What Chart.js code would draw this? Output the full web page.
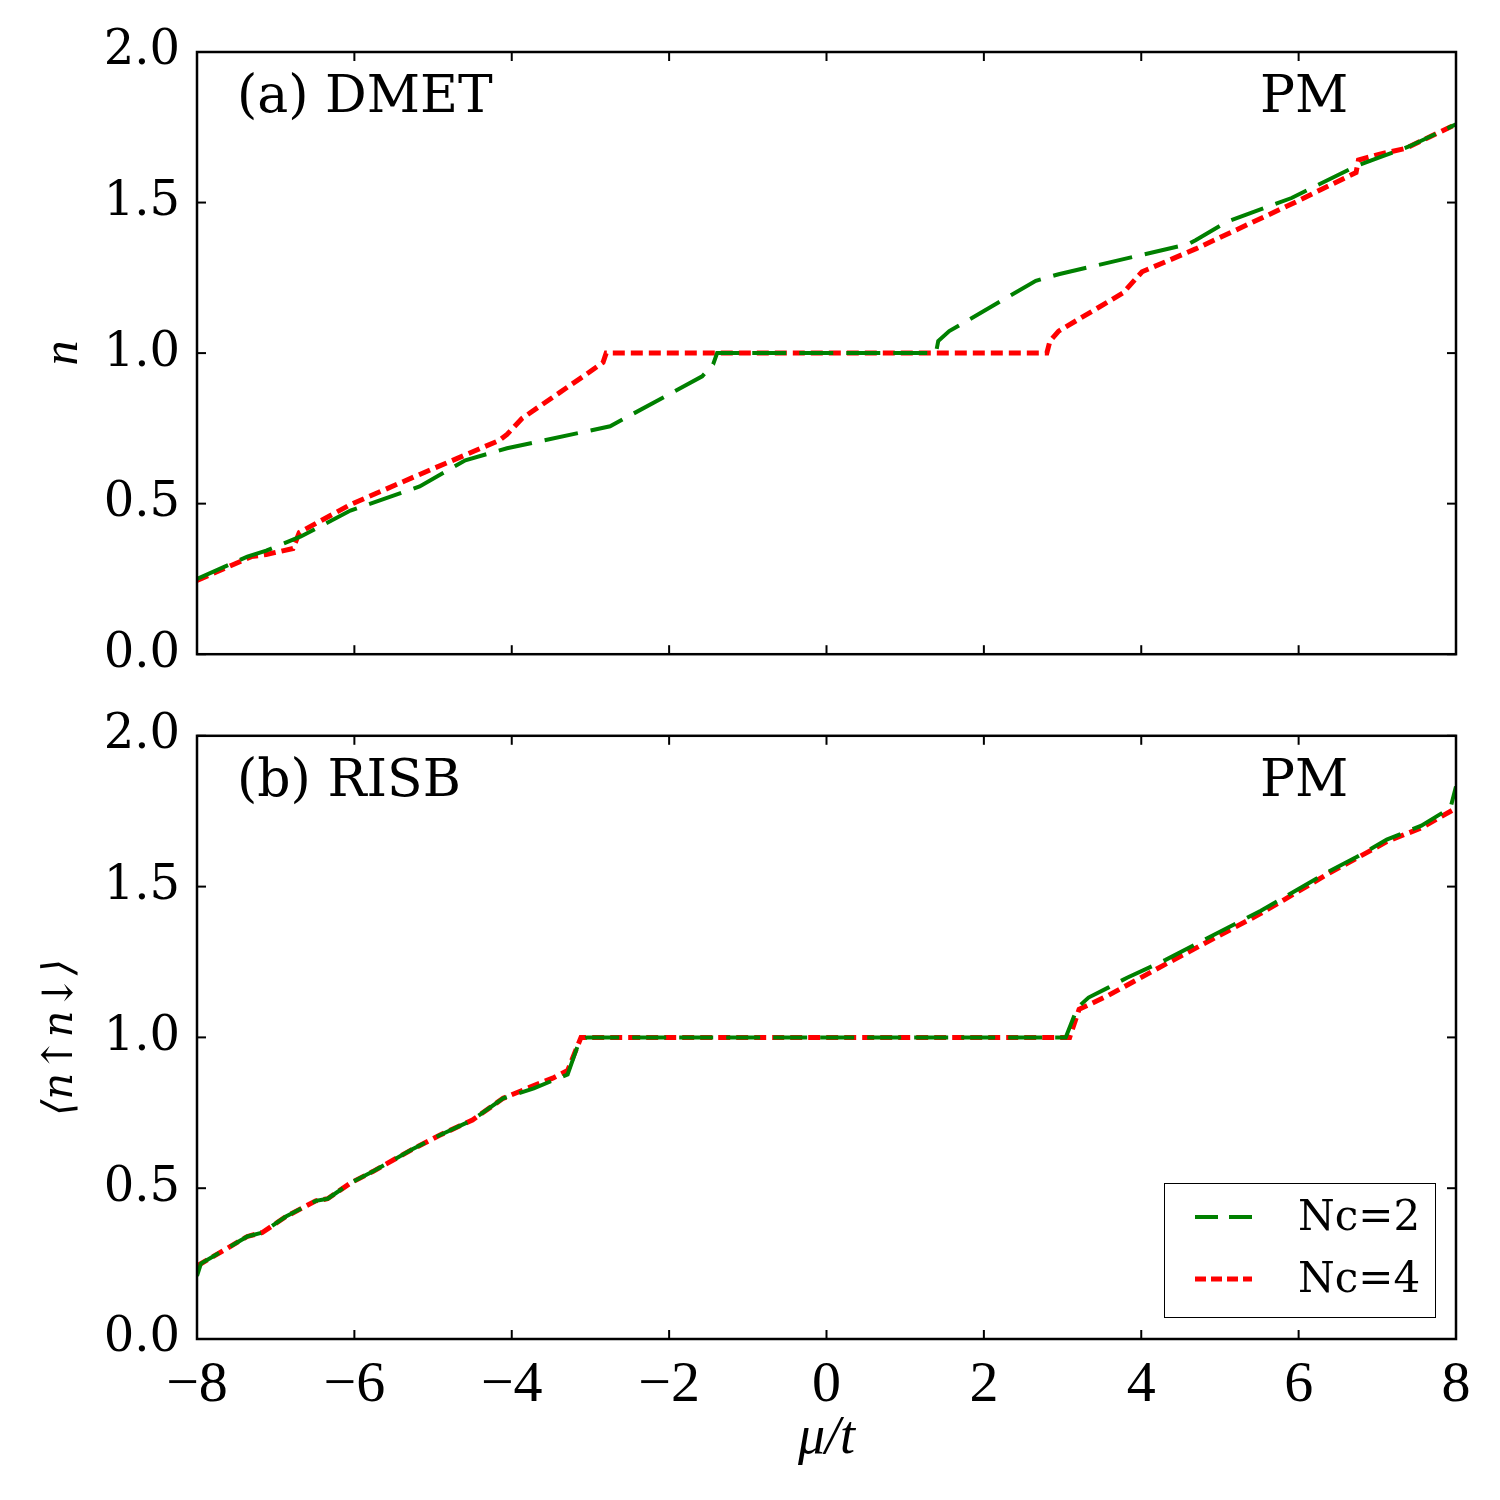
<!DOCTYPE html>
<html>
<head>
<meta charset="utf-8">
<script src="https://cdn.jsdelivr.net/npm/chart.js@4.4.0/dist/chart.umd.min.js"></script>
<style>
body{margin:0;background:#fff;}
#wrap{position:relative;width:1500px;height:1500px;}
canvas{position:absolute;left:0;}
</style>
</head>
<body>
<div id="wrap">
<canvas id="chartA" width="1500" height="700" style="top:0"></canvas>
<canvas id="chartB" width="1500" height="810" style="top:690px"></canvas>
</div>
<script>
// panel (a) DMET
var muA2 = [-8, -7.36, -7.12, -6.68, -6.05, -5.17, -4.59, -4.06, -2.75, -1.58, -1.44, -1.39, 1.39, 1.42, 1.56, 2.66, 2.95, 4.60, 4.69, 5.08, 5.91, 6.73, 7.07, 7.41, 8];
var nA2  = [0.25, 0.324, 0.344, 0.391, 0.477, 0.557, 0.644, 0.684, 0.757, 0.923, 0.963, 1.0, 1.0, 1.04, 1.073, 1.24, 1.262, 1.362, 1.375, 1.435, 1.515, 1.621, 1.654, 1.687, 1.76];
var muA4 = [-8, -7.31, -7.12, -6.78, -6.70, -6.05, -5.17, -4.16, -4.06, -3.87, -3.09, -2.84, -2.80, 2.80, 2.84, 2.95, 3.77, 4.01, 4.69, 5.91, 6.73, 6.76, 7.02, 7.36, 8];
var nA4  = [0.245, 0.324, 0.331, 0.351, 0.404, 0.497, 0.597, 0.710, 0.730, 0.783, 0.923, 0.969, 1.0, 1.0, 1.04, 1.073, 1.20, 1.27, 1.346, 1.495, 1.60, 1.641, 1.66, 1.68, 1.76];

// panel (b) RISB
var muB2 = [-8, -7.95, -7.36, -7.17, -6.87, -6.49, -6.34, -6.05, -5.76, -5.27, -4.93, -4.50, -4.11, -3.72, -3.48, -3.29, -3.14, -3.04, 3.04, 3.19, 3.33, 3.58, 3.82, 4.31, 4.79, 5.52, 6.39, 6.73, 7.12, 7.56, 7.93, 8];
var nB2  = [0.209, 0.25, 0.340, 0.353, 0.406, 0.458, 0.465, 0.517, 0.556, 0.628, 0.674, 0.726, 0.798, 0.831, 0.857, 0.877, 0.988, 1.0, 1.0, 1.099, 1.132, 1.165, 1.198, 1.257, 1.322, 1.420, 1.551, 1.597, 1.656, 1.702, 1.761, 1.832];
var muB4 = [-8, -7.36, -7.17, -6.87, -6.49, -6.34, -6.05, -5.76, -5.27, -4.93, -4.50, -4.11, -3.72, -3.48, -3.29, -3.12, 3.09, 3.21, 3.58, 4.31, 5.52, 6.39, 7.12, 7.56, 8];
var nB4  = [0.242, 0.340, 0.353, 0.406, 0.458, 0.465, 0.517, 0.556, 0.628, 0.674, 0.726, 0.798, 0.840, 0.865, 0.890, 1.0, 1.0, 1.093, 1.139, 1.243, 1.411, 1.545, 1.649, 1.695, 1.760];

var seriesNames = ['Nc=2', 'Nc=4'];
var xTicks = [-8, -6, -4, -2, 0, 2, 4, 6, 8];
var yTicks = [0, 0.5, 1.0, 1.5, 2.0];

function pts(xs, ys){
  return xs.map(function(x, i){ return {x: x, y: ys[i]}; });
}

function makeSets(x2, y2, x4, y4){
  return [
    {label: seriesNames[0], data: pts(x2, y2), borderColor: '#008000', borderWidth: 4, borderDash: [34, 13]},
    {label: seriesNames[1], data: pts(x4, y4), borderColor: '#ff0000', borderWidth: 5, borderDash: [12, 6]}
  ];
}

// frame + inward ticks on all four sides (matplotlib classic look)
var frameTicks = {
  id: 'frameTicks',
  afterDatasetsDraw: function(chart){
    var c = chart.ctx, a = chart.chartArea, sx = chart.scales.x, sy = chart.scales.y, L = 9;
    c.save();
    c.strokeStyle = '#000';
    c.lineWidth = 2;
    xTicks.forEach(function(v){
      var px = sx.getPixelForValue(v);
      c.beginPath(); c.moveTo(px, a.bottom); c.lineTo(px, a.bottom - L); c.stroke();
      c.beginPath(); c.moveTo(px, a.top); c.lineTo(px, a.top + L); c.stroke();
    });
    yTicks.forEach(function(v){
      var py = sy.getPixelForValue(v);
      c.beginPath(); c.moveTo(a.left, py); c.lineTo(a.left + L, py); c.stroke();
      c.beginPath(); c.moveTo(a.right, py); c.lineTo(a.right - L, py); c.stroke();
    });
    c.lineWidth = 2.5;
    c.strokeRect(a.left, a.top, a.right - a.left, a.bottom - a.top);
    c.restore();
  }
};

var notes = {
  id: 'notes',
  afterDraw: function(chart, args, opts){
    var c = chart.ctx, a = chart.chartArea;
    c.save();
    c.fillStyle = '#000';
    c.font = '52px "DejaVu Serif"';
    c.textBaseline = 'alphabetic';
    c.textAlign = 'left';
    c.fillText(opts.left, a.left + 40, a.top + 60);
    c.fillText('PM', a.left + 1063, a.top + 60);
    c.restore();
  }
};

var boxLegend = {
  id: 'boxLegend',
  afterDraw: function(chart, args, opts){
    if (!opts.show) return;
    var c = chart.ctx, a = chart.chartArea;
    var bx = a.right - 292, by = a.bottom - 156, bw = 271, bh = 134;
    c.save();
    c.fillStyle = '#fff';
    c.fillRect(bx, by, bw, bh);
    c.strokeStyle = '#000';
    c.lineWidth = 1;
    c.strokeRect(bx + 0.5, by + 0.5, bw, bh);
    chart.data.datasets.forEach(function(ds, i){
      var ly = by + 34 + i * 62;
      c.strokeStyle = ds.borderColor;
      c.lineWidth = ds.borderWidth;
      c.setLineDash(i === 0 ? [23, 11] : [11, 5]);
      c.beginPath(); c.moveTo(bx + 31, ly); c.lineTo(bx + 88, ly); c.stroke();
      c.setLineDash([]);
      c.fillStyle = '#000';
      c.font = '42px "DejaVu Serif"';
      c.textBaseline = 'middle';
      c.fillText(ds.label, bx + 134, ly + 2);
    });
    c.restore();
  }
};

function baseOptions(){
  return {
    responsive: false,
    animation: false,
    elements: {point: {radius: 0}, line: {tension: 0, borderCapStyle: 'butt'}},
    plugins: {legend: {display: false}, tooltip: {enabled: false}},
    scales: {
      x: {
        type: 'linear', min: -8, max: 8,
        grid: {display: false, drawTicks: false},
        border: {display: false},
        ticks: {stepSize: 2, color: '#000'}
      },
      y: {
        min: 0, max: 2,
        grid: {display: false, drawTicks: false},
        border: {display: false},
        ticks: {
          stepSize: 0.5, color: '#000', padding: 17,
          font: {family: 'DejaVu Serif', size: 48},
          callback: function(v){ return v.toFixed(1); }
        },
        afterFit: function(s){ s.width = 197; },
        title: {display: true, color: '#000'}
      }
    }
  };
}

// top panel
var optA = baseOptions();
optA.layout = {padding: {top: 52, right: 44, left: 0, bottom: 0}};
optA.scales.x.ticks.display = false;
optA.scales.x.afterFit = function(s){ s.height = 44; };
optA.scales.y.title.text = 'n';
optA.scales.y.title.font = {family: 'Liberation Serif', size: 50, style: 'italic'};
optA.scales.y.title.padding = {top: 34, bottom: 0};
optA.plugins.notes = {left: '(a) DMET'};
optA.plugins.boxLegend = {show: false};

new Chart(document.getElementById('chartA'), {
  type: 'line',
  data: {datasets: makeSets(muA2, nA2, muA4, nA4)},
  options: optA,
  plugins: [frameTicks, notes, boxLegend]
});

// bottom panel
var optB = baseOptions();
optB.layout = {padding: {top: 26, right: 44, left: 0, bottom: 0}};
optB.scales.x.afterFit = function(s){ s.height = 161; };
optB.scales.x.ticks.font = {family: 'Liberation Serif', size: 58};
optB.scales.x.ticks.padding = 12;
optB.scales.x.ticks.callback = function(v){ return v < 0 ? '\u2212' + Math.abs(v) : String(v); };
optB.scales.x.title = {display: true, text: '\u03bc/t', color: '#000',
  font: {family: 'Liberation Serif', size: 54, style: 'italic'}, padding: {top: 0, bottom: 29}};
optB.scales.y.title.text = '\u27e8n\u2191n\u2193\u27e9';
optB.scales.y.title.font = {family: 'DejaVu Serif', size: 42, style: 'italic'};
optB.scales.y.title.padding = {top: 36, bottom: 0};
optB.plugins.notes = {left: '(b) RISB'};
optB.plugins.boxLegend = {show: true};

new Chart(document.getElementById('chartB'), {
  type: 'line',
  data: {datasets: makeSets(muB2, nB2, muB4, nB4)},
  options: optB,
  plugins: [frameTicks, notes, boxLegend]
});
</script>
</body>
</html>
